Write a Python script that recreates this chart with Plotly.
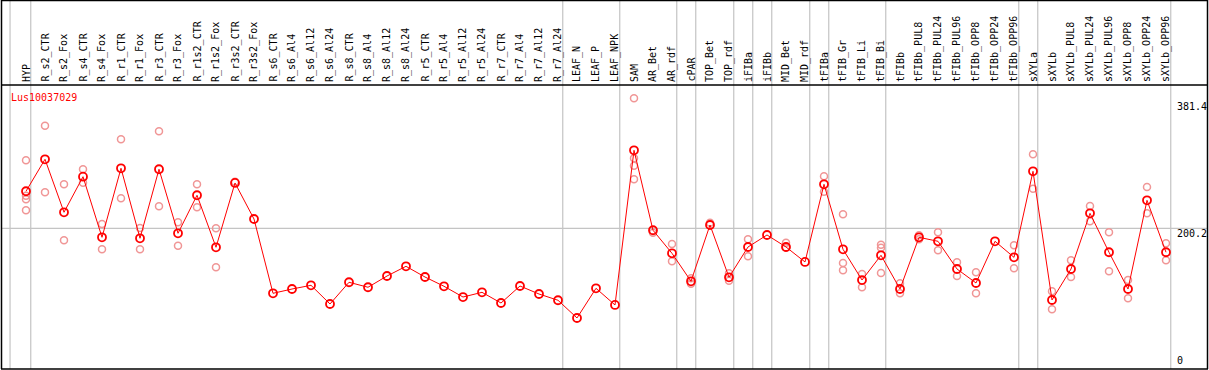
import plotly.graph_objects as go

categories = ["HYP", "R_s2_CTR", "R_s2_Fox", "R_s4_CTR", "R_s4_Fox", "R_r1_CTR", "R_r1_Fox",
              "R_r3_CTR", "R_r3_Fox", "R_r1s2_CTR", "R_r1s2_Fox", "R_r3s2_CTR", "R_r3s2_Fox",
              "R_s6_CTR", "R_s6_Al4", "R_s6_Al12", "R_s6_Al24", "R_s8_CTR", "R_s8_Al4",
              "R_s8_Al12", "R_s8_Al24", "R_r5_CTR", "R_r5_Al4", "R_r5_Al12", "R_r5_Al24",
              "R_r7_CTR", "R_r7_Al4", "R_r7_Al12", "R_r7_Al24", "LEAF_N", "LEAF_P", "LEAF_NPK",
              "SAM", "AR_Bet", "AR_rdf", "cPAR", "TOP_Bet", "TOP_rdf", "iFIBa", "iFIBb",
              "MID_Bet", "MID_rdf", "tFIBa", "tFIB_Gr", "tFIB_Li", "tFIB_Bi", "tFIBb",
              "tFIBb_PUL8", "tFIBb_PUL24", "tFIBb_PUL96", "tFIBb_OPP8", "tFIBb_OPP24",
              "tFIBb_OPP96", "sXYLa", "sXYLb", "sXYLb_PUL8", "sXYLb_PUL24", "sXYLb_PUL96",
              "sXYLb_OPP8", "sXYLb_OPP24", "sXYLb_OPP96"]

mean_values = [252.9, 298.4, 223.0, 273.6, 187.4, 285.6, 186.0, 284.2, 193.1, 247.2, 173.2,
               264.7, 213.4, 107.7, 113.8, 119.1, 92.5, 123.4, 116.3, 132.3, 146.1, 130.9,
               117.7, 102.4, 109.1, 93.9, 118.1, 106.7, 97.8, 72.6, 114.8, 91.1, 311.2, 197.4,
               164.6, 124.8, 204.9, 130.5, 173.6, 190.7, 173.6, 152.3, 262.8, 170.3, 126.6,
               161.8, 113.8, 187.4, 181.7, 142.3, 122.4, 181.7, 158.9, 281.3, 98.2, 142.3,
               221.5, 166.1, 113.8, 240.0, 166.1]

N = None
rep_a = [297.0, 346.2, 262.8, 284.2, 206.3, 326.8, 200.6, 338.2, 208.7, 262.8, 200.2, 266.5, N,
         N, N, N, N, N, N, N, N, N, N, N, N, N, N, N, N, N, N, N,
         385.2, 193.9, 177.9, 129.1, 208.2, 136.2, 184.5, N, 179.7, N, 274.2, 220.1, 135.2,
         176.9, 121.9, 190.2, 194.5, 151.8, 137.6, N, 176.0, 305.5, 110.6, 154.7, 231.9,
         194.5, 126.6, 259.0, 178.9]
rep_b = [246.6, 251.4, 183.1, 265.1, 170.3, 242.9, 170.3, 231.5, 175.4, 230.1, 144.7, N, N,
         N, N, N, N, N, N, N, N, N, N, N, N, N, N, N, N, N, N, N,
         299.8, N, 153.2, 121.4, N, 125.6, 160.4, N, 172.6, N, 252.3, 150.8, 116.3,
         172.6, 107.7, 184.5, 168.9, 132.3, 107.7, N, 143.3, 256.5, 84.9, 130.9, 210.2,
         139.0, 100.6, 221.5, 154.7]
rep_c = [241.5, N, N, N, N, N, N, N, N, N, N, N, N,
         N, N, N, N, N, N, N, N, N, N, N, N, N, N, N, N, N, N, N,
         289.3, N, N, N, N, N, N, N, N, N, N, 140.4, N,
         136.6, N, N, N, N, N, N, N, N, N, N, N,
         N, N, N, N]
rep_d = [225.8, N, N, N, N, N, N, N, N, N, N, N, N,
         N, N, N, N, N, N, N, N, N, N, N, N, N, N, N, N, N, N, N,
         269.9, N, N, N, N, N, N, N, N, N, N, N, N,
         N, N, N, N, N, N, N, N, N, N, N, N,
         N, N, N, N]

# indices of last category in each group (separator drawn after it)
group_ends = [0, 28, 31, 34, 35, 37, 38, 39, 41, 42, 45, 52, 53, 60]
axis_ticks = [381.4, 200.2, 0]
gene_id = "Lus10037029"

W, H = 1209, 370
STEP = 19.0
X0 = 26.0
K = 0.7028  # px per unit
YB = 369.0

xr = [-X0 / STEP, (W - X0) / STEP]
yr = [(YB - H) / K, YB / K]

def px(p):
    return p / W

def py(p):
    return 1 - p / H

idx = list(range(len(categories)))
fig = go.Figure()

# replicates
rx, ry = [], []
for reps in (rep_a, rep_b, rep_c, rep_d):
    for i, v in enumerate(reps):
        if v is not None:
            rx.append(i)
            ry.append(v)
fig.add_trace(go.Scatter(x=rx, y=ry, mode="markers",
                         marker=dict(symbol="circle-open", size=7, color="rgb(240,150,150)",
                                     line=dict(width=1.5, color="rgb(240,150,150)")),
                         hoverinfo="skip", showlegend=False))
fig.add_trace(go.Scatter(x=idx, y=mean_values, mode="lines+markers",
                         line=dict(color="#ff0000", width=1),
                         marker=dict(symbol="circle-open", size=8, color="#ff0000",
                                     line=dict(width=1.8, color="#ff0000")),
                         showlegend=False))

shapes = []
gray = "#c4c4c4"
# vertical separators
sep_x = [-0.84] + [g + 0.25 for g in group_ends]
for sx in sep_x:
    shapes.append(dict(type="line", xref="x", yref="paper", x0=sx, x1=sx, y0=py(YB), y1=1,
                       line=dict(color=gray, width=1.2), layer="below"))
# horizontal gridline
shapes.append(dict(type="line", xref="paper", yref="y", x0=px(1), x1=px(1207), y0=200.2, y1=200.2,
                   line=dict(color=gray, width=1.2), layer="below"))
# black frame
blk = dict(color="black", width=1.5)
shapes.append(dict(type="line", xref="paper", yref="paper", x0=px(1), x1=px(1208), y0=py(0.5), y1=py(0.5), line=blk))
shapes.append(dict(type="line", xref="paper", yref="paper", x0=px(1), x1=px(1208), y0=py(85), y1=py(85), line=blk))
shapes.append(dict(type="line", xref="paper", yref="paper", x0=px(1), x1=px(1208), y0=py(369), y1=py(369), line=blk))
shapes.append(dict(type="line", xref="paper", yref="paper", x0=px(1.5), x1=px(1.5), y0=py(0), y1=py(369), line=blk))
shapes.append(dict(type="line", xref="paper", yref="paper", x0=px(1207.5), x1=px(1207.5), y0=py(0), y1=py(369), line=blk))

mono = "DejaVu Sans Mono"
ann = []
for i, c in enumerate(categories):
    ann.append(dict(x=i, xref="x", y=py(84), yref="paper", text=c, textangle=-90,
                    showarrow=False, xanchor="center", yanchor="bottom",
                    font=dict(family=mono, size=10, color="black")))
ann.append(dict(x=px(9), xref="paper", y=py(97), yref="paper", text=gene_id, showarrow=False,
                xanchor="left", yanchor="middle", font=dict(family=mono, size=10, color="red")))
for t in axis_ticks:
    if t == 0:
        ann.append(dict(x=px(1175), xref="paper", y=py(368), yref="paper", text="0", showarrow=False,
                        xanchor="left", yanchor="bottom", font=dict(family=mono, size=10, color="black")))
    else:
        ann.append(dict(x=px(1175), xref="paper", y=t, yref="y", text=f"{t}", showarrow=False,
                        xanchor="left", yanchor="top", yshift=2,
                        font=dict(family=mono, size=10, color="black")))

fig.update_layout(width=W, height=H, margin=dict(l=0, r=0, t=0, b=0),
                  paper_bgcolor="white", plot_bgcolor="white",
                  xaxis=dict(range=xr, visible=False, fixedrange=True),
                  yaxis=dict(range=yr, visible=False, fixedrange=True),
                  shapes=shapes, annotations=ann)
fig.write_html("out.html", config={"displayModeBar": False},
               post_script="document.body.style.margin='0';document.body.style.overflow='hidden';")
